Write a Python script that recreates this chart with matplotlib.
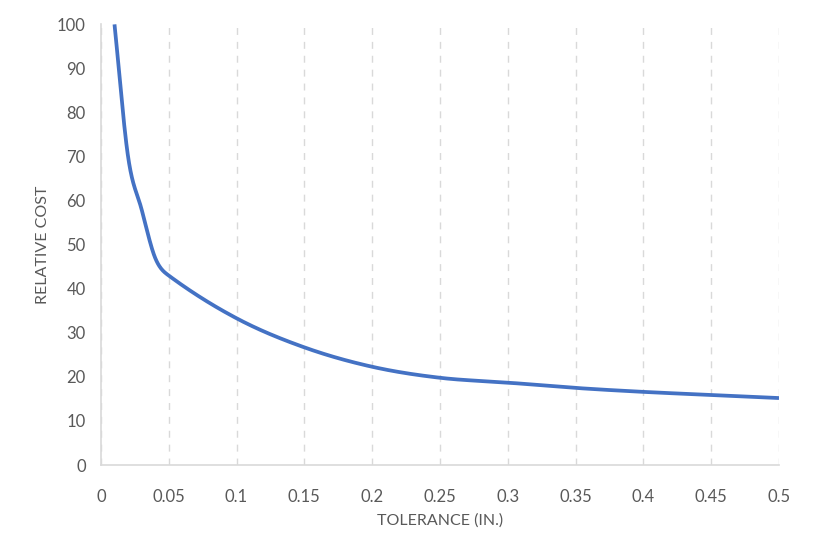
import numpy as np
import matplotlib
matplotlib.use("Agg")
import matplotlib.pyplot as plt

tolerance = [0.01, 0.02, 0.03, 0.04, 0.05, 0.10, 0.15, 0.20, 0.25, 0.30, 0.35, 0.40, 0.45, 0.50]
relative_cost = [100, 70, 58, 47, 43, 33.3, 26.7, 22.3, 19.8, 18.7, 17.5, 16.6, 15.9, 15.2]
x_ticks = [0, 0.05, 0.1, 0.15, 0.2, 0.25, 0.3, 0.35, 0.4, 0.45, 0.5]
x_tick_labels = ["0", "0.05", "0.1", "0.15", "0.2", "0.25", "0.3", "0.35", "0.4", "0.45", "0.5"]
y_ticks = [0, 10, 20, 30, 40, 50, 60, 70, 80, 90, 100]


def smooth(xs, ys, n=40):
    xs = np.asarray(xs, float)
    ys = np.asarray(ys, float)
    m = np.empty_like(ys)
    m[1:-1] = (ys[2:] - ys[:-2]) / (xs[2:] - xs[:-2])
    m[0] = (ys[1] - ys[0]) / (xs[1] - xs[0])
    m[-1] = (ys[-1] - ys[-2]) / (xs[-1] - xs[-2])
    outx, outy = [], []
    t = np.linspace(0, 1, n)
    for i in range(len(xs) - 1):
        h = xs[i + 1] - xs[i]
        h00 = 2 * t ** 3 - 3 * t ** 2 + 1
        h10 = t ** 3 - 2 * t ** 2 + t
        h01 = -2 * t ** 3 + 3 * t ** 2
        h11 = t ** 3 - t ** 2
        outx.extend(xs[i] + t * h)
        outy.extend(h00 * ys[i] + h10 * h * m[i] + h01 * ys[i + 1] + h11 * h * m[i + 1])
    return np.array(outx), np.array(outy)


plt.rcParams['font.family'] = ['Lato', 'DejaVu Sans']

fig = plt.figure(figsize=(8.14, 5.54), dpi=100)
ax = fig.add_axes([0.124, 0.1606, 0.833, 0.7954])

sx, sy = smooth(tolerance, relative_cost)
ax.plot(sx, sy, color="#4472C4", linewidth=2.7, solid_capstyle="butt", clip_on=True)

ax.set_xlim(0, 0.5)
ax.set_ylim(0, 100)
ax.set_xticks(x_ticks)
ax.set_xticklabels(x_tick_labels)
ax.set_yticks(y_ticks)

ax.grid(axis="x", color="#D9D9D9", linestyle=(0, (5, 5)), linewidth=1.0)
ax.set_axisbelow(True)
for s in ["top", "right"]:
    ax.spines[s].set_visible(False)
for s in ["left", "bottom"]:
    ax.spines[s].set_color("#D9D9D9")
    ax.spines[s].set_linewidth(1.2)

ax.tick_params(axis="both", length=0, colors="#595959", labelsize=12)
ax.tick_params(axis="x", pad=17)
ax.tick_params(axis="y", pad=11)

ax.set_xlabel("TOLERANCE (IN.)", fontsize=11.5, color="#595959", labelpad=6)
ax.set_ylabel("RELATIVE COST", fontsize=11.5, color="#595959", labelpad=5)

fig.savefig("out.png", dpi=100, facecolor="white")
